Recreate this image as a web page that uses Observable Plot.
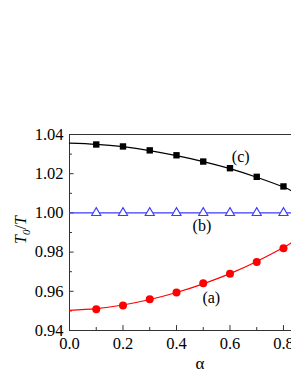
<!DOCTYPE html>
<html>
<head>
<meta charset="utf-8">
<script src="https://cdn.jsdelivr.net/npm/d3@7"></script>
<script src="https://cdn.jsdelivr.net/npm/@observablehq/plot@0.6"></script>
<style>
  html, body { margin: 0; padding: 0; background: #fff; }
  #chart svg { display: block; }
  #chart svg text { font-family: 'Liberation Serif', serif !important; }
</style>
</head>
<body>
<div id="chart"></div>
<script>
// Measured points
const alpha = [0.1, 0.2, 0.3, 0.4, 0.5, 0.6, 0.7, 0.8];
const seriesA = [0.9509, 0.9528, 0.9559, 0.9594, 0.9641, 0.9689, 0.9749, 0.9820];
const seriesB = [1.0, 1.0, 1.0, 1.0, 1.0, 1.0, 1.0, 1.0];
const seriesC = [1.0349, 1.0339, 1.0319, 1.0294, 1.0262, 1.0228, 1.0184, 1.0135];
// Fitted curves
const fitAlpha = [0, 0.1, 0.2, 0.3, 0.4, 0.5, 0.6, 0.7, 0.8, 0.83];
const fitA = [0.9503, 0.9512, 0.9530, 0.9558, 0.9594, 0.9638, 0.9690, 0.9752, 0.9823, 0.9848];
const fitB = [1.0, 1.0, 1.0, 1.0, 1.0, 1.0, 1.0, 1.0, 1.0, 1.0];
const fitC = [1.0356, 1.0350, 1.0338, 1.0318, 1.0292, 1.0262, 1.0226, 1.0182, 1.0132, 1.0112];
// Curve labels
const curveLabels = ["(a)", "(b)", "(c)"];
const curveLabelX = [0.53, 0.495, 0.64];
const curveLabelY = [0.9566, 0.9935, 1.0287];
// Ticks
const xMajor = [0, 0.2, 0.4, 0.6, 0.8];
const xMinor = [0.1, 0.3, 0.5, 0.7];
const yMajor = [0.94, 0.96, 0.98, 1.00, 1.02, 1.04];
const yMinor = [0.95, 0.97, 0.99, 1.01, 1.03];

const pts = (ys) => alpha.map((a, i) => ({x: a, y: ys[i]}));
const fit = (ys) => fitAlpha.map((a, i) => ({x: a, y: ys[i]}));
const labels = curveLabels.map((t, i) => ({t, x: curveLabelX[i], y: curveLabelY[i]}));

const font = "Liberation Serif, serif";
const blue = "#3c3cff";
const red = "#ff0000";

const plot = Plot.plot({
  width: 291,
  height: 376,
  marginTop: 134,
  marginBottom: 46,
  marginLeft: 69,
  marginRight: 0,
  style: {fontFamily: font, fontSize: "16px", background: "#fff", color: "#000"},
  x: {domain: [0, 0.83]},
  y: {domain: [0.94, 1.04]},
  marks: [
    // axis labels only
    Plot.axisX(xMajor, {tickSize: 0, tickPadding: 7, tickFormat: d3.format(".1f"), label: null,
      fontSize: 16.5, fontFamily: font, fontVariant: "normal"}),
    Plot.axisY(yMajor, {tickSize: 0, tickPadding: 6, tickFormat: d3.format(".2f"), label: null,
      fontSize: 16.5, fontFamily: font, fontVariant: "normal"}),
    // frame lines
    Plot.ruleY([0.94, 1.04], {stroke: "#333", strokeWidth: 1}),
    Plot.ruleX([0], {stroke: "#333", strokeWidth: 1}),
    // inward ticks
    Plot.ruleX(xMajor, {y1: 0.94, y2: 0.9425, stroke: "#333"}),
    Plot.ruleX(xMinor, {y1: 0.94, y2: 0.9415, stroke: "#333"}),
    Plot.ruleY(yMajor, {x1: 0, x2: 0.017, stroke: "#333"}),
    Plot.ruleY(yMinor, {x1: 0, x2: 0.011, stroke: "#333"}),
    // fitted lines
    Plot.line(fit(fitC), {x: "x", y: "y", stroke: "#000", strokeWidth: 1.2, curve: "natural"}),
    Plot.line(fit(fitB), {x: "x", y: "y", stroke: blue, strokeWidth: 1.2}),
    Plot.line(fit(fitA), {x: "x", y: "y", stroke: red, strokeWidth: 1.2, curve: "natural"}),
    // markers
    Plot.dot(pts(seriesC), {x: "x", y: "y", symbol: "square", r: 3.6, fill: "#000", stroke: "none"}),
    Plot.dot(pts(seriesB), {x: "x", y: "y", symbol: "triangle", r: 3.4, fill: "#fff", stroke: blue, strokeWidth: 1.1}),
    Plot.dot(pts(seriesA), {x: "x", y: "y", symbol: "circle", r: 4, fill: red, stroke: "none"}),
    // curve labels
    Plot.text(labels, {x: "x", y: "y", text: "t", fontSize: 16, fontFamily: font, fill: "#000"})
  ]
});

document.getElementById("chart").appendChild(plot);

// Axis titles with italic/subscript
const svg = d3.select(plot);
const yl = svg.append("text")
  .attr("transform", "translate(26,230) rotate(-90)")
  .attr("text-anchor", "middle")
  .style("font-size", "16px")
  .attr("fill", "#000");
yl.append("tspan").attr("font-style", "italic").text("T");
yl.append("tspan").attr("font-style", "italic").attr("font-size", "11px").attr("dy", "4").text("0");
yl.append("tspan").attr("dy", "-4").text("/");
yl.append("tspan").attr("font-style", "italic").text("T");

svg.append("text")
  .attr("x", 200)
  .attr("y", 369)
  .attr("text-anchor", "middle")
  .style("font-size", "17px")
  .attr("fill", "#000")
  .text("α");
</script>
</body>
</html>
